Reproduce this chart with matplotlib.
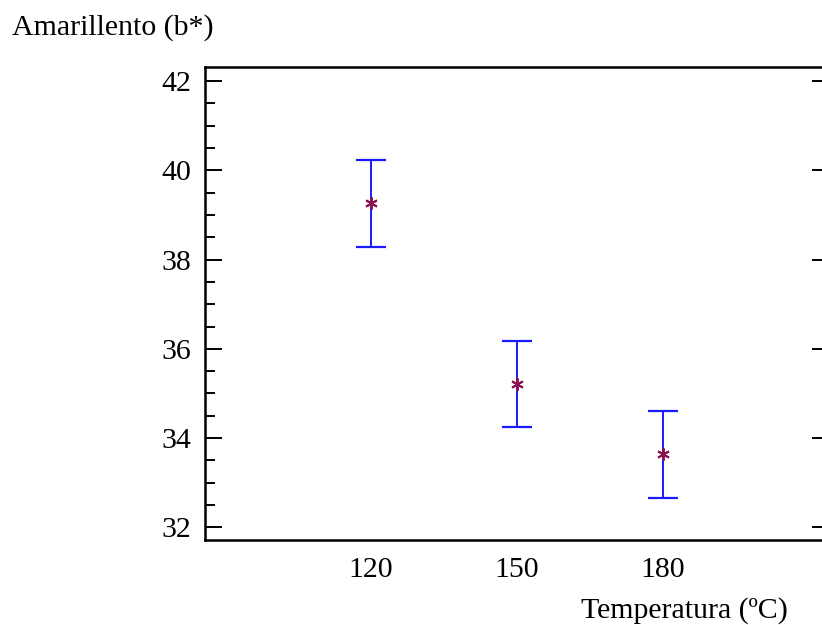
import matplotlib
matplotlib.use("Agg")
import matplotlib.pyplot as plt
from matplotlib.ticker import MultipleLocator

plt.rcParams['font.family'] = ['Liberation Serif', 'DejaVu Serif']

categories = ["120", "150", "180"]
means = [39.26, 35.21, 33.64]
upper = [40.23, 36.18, 34.60]
lower = [38.27, 34.24, 32.66]

W, H = 822, 625
fig = plt.figure(figsize=(W / 100, H / 100), dpi=100)
# axes in pixel coordinates: left 205, right 829 (beyond figure), top 67, bottom 540
left, right, top, bottom = 205, 829, 67, 540
ax = fig.add_axes([left / W, 1 - bottom / H, (right - left) / W, (bottom - top) / H])

x = list(range(len(categories)))
yerr_low = [m - l for m, l in zip(means, lower)]
yerr_up = [u - m for m, u in zip(means, upper)]
ax.errorbar(x, means, yerr=[yerr_low, yerr_up], fmt='none', ecolor='#1a1aff',
            elinewidth=1.4, capsize=10.5, capthick=1.6, zorder=2)
ax.plot(x, means, linestyle='none', marker=(6, 2, 0), markersize=9,
        markeredgecolor='#8a1050', markeredgewidth=1.4, zorder=3)

ax.set_xlim(-1.137, 3.137)
ax.set_ylim(31.72, 42.31)
ax.set_xticks(x)
ax.set_xticklabels(categories)
ax.yaxis.set_major_locator(MultipleLocator(2))
ax.yaxis.set_minor_locator(MultipleLocator(0.5))

for s in ax.spines.values():
    s.set_linewidth(1.8)
    s.set_color('black')

FS = 21.5
ax.tick_params(axis='x', which='both', length=0, pad=12, labelsize=FS)
ax.tick_params(axis='y', which='major', direction='in', length=12, width=1.4,
               pad=10, labelsize=FS, right=True)
ax.tick_params(axis='y', which='minor', direction='in', length=7, width=1.4,
               right=False)

fig.text(12 / W, 1 - 35 / H, "Amarillento (b*)", fontsize=FS, ha='left', va='baseline')
fig.text(788 / W, 1 - 618 / H, "Temperatura (ºC)", fontsize=FS, ha='right', va='baseline')

fig.savefig("out.png", dpi=100)
